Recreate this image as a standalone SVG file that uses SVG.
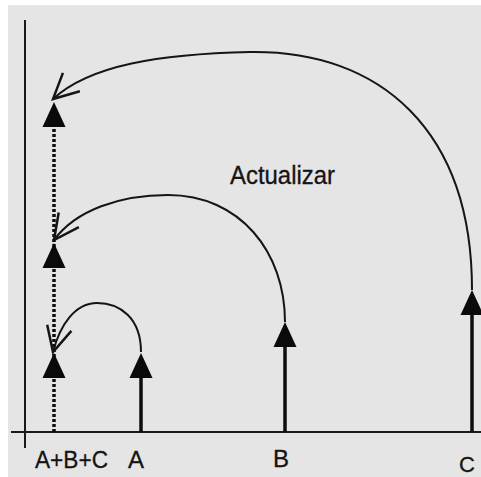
<svg xmlns="http://www.w3.org/2000/svg" width="481" height="477" viewBox="0 0 481 477">
  <style>
    .axis { stroke: #1a1a1a; stroke-width: 2; fill: none; }
    .curve { stroke: #151515; stroke-width: 2; fill: none; }
    .shaft { stroke: #0d0d0d; stroke-width: 3.5; fill: none; }
    .dotted { stroke: #0d0d0d; stroke-width: 3.5; stroke-dasharray: 3 2; fill: none; }
    .head { fill: #0a0a0a; }
    .lbl { font-family: "Liberation Sans", Arial, Helvetica, sans-serif; fill: #141414; stroke: #141414; stroke-width: 0.3; }
  </style>
  <defs>
    <path id="tri" d="M0,0 L11.5,25 L-11.5,25 Z"/>
    <marker id="open" markerUnits="userSpaceOnUse" markerWidth="30" markerHeight="30" refX="0" refY="0" viewBox="-22 -12 24 24" orient="auto" overflow="visible">
      <path d="M-20,-10 L0,0 L-20,10" fill="none" stroke="#151515" stroke-width="2"/>
    </marker>
  </defs>
  <rect x="0" y="0" width="481" height="477" fill="#ffffff"/>
  <rect x="8" y="5" width="473" height="472" fill="#e5e5e5"/>

  <g id="axes">
    <line class="axis" x1="25" y1="20" x2="25" y2="448"/>
    <line class="axis" x1="11" y1="432" x2="481" y2="432"/>
  </g>

  <g id="sum">
    <line class="dotted" x1="54" y1="432" x2="54" y2="124"/>
    <use href="#tri" class="head" x="54" y="102"/>
    <use href="#tri" class="head" x="54" y="243"/>
    <use href="#tri" class="head" x="54" y="353"/>
    <text class="lbl" x="35" y="468" font-size="24" textLength="73" lengthAdjust="spacingAndGlyphs">A+B+C</text>
  </g>

  <g id="nodeA">
    <line class="shaft" x1="141" y1="376" x2="141" y2="432"/>
    <use href="#tri" class="head" x="141" y="353"/>
    <text class="lbl" x="128" y="468" font-size="24">A</text>
  </g>

  <g id="nodeB">
    <line class="shaft" x1="285" y1="345" x2="285" y2="432"/>
    <use href="#tri" class="head" x="285" y="322"/>
    <text class="lbl" x="273" y="467" font-size="24">B</text>
  </g>

  <g id="nodeC">
    <line class="shaft" x1="472" y1="314" x2="472" y2="432"/>
    <use href="#tri" class="head" x="472" y="290"/>
    <text class="lbl" x="459" y="472" font-size="22">C</text>
  </g>

  <g id="connectors">
    <path class="curve" marker-end="url(#open)" d="M472,290 C472,130 380,50 250,52 C160,54 90,65 53,99"/>
    <path class="curve" marker-end="url(#open)" d="M285,322 C285,252 240,195 168,195 C120,195 76,210 54,240"/>
    <path class="curve" marker-end="url(#open)" d="M141,352 C141,318 120,303 97,303 C75,303 60,325 53,352"/>
  </g>

  <g id="label">
    <text class="lbl" x="230" y="184" font-size="25" textLength="105" lengthAdjust="spacingAndGlyphs">Actualizar</text>
  </g>
</svg>
